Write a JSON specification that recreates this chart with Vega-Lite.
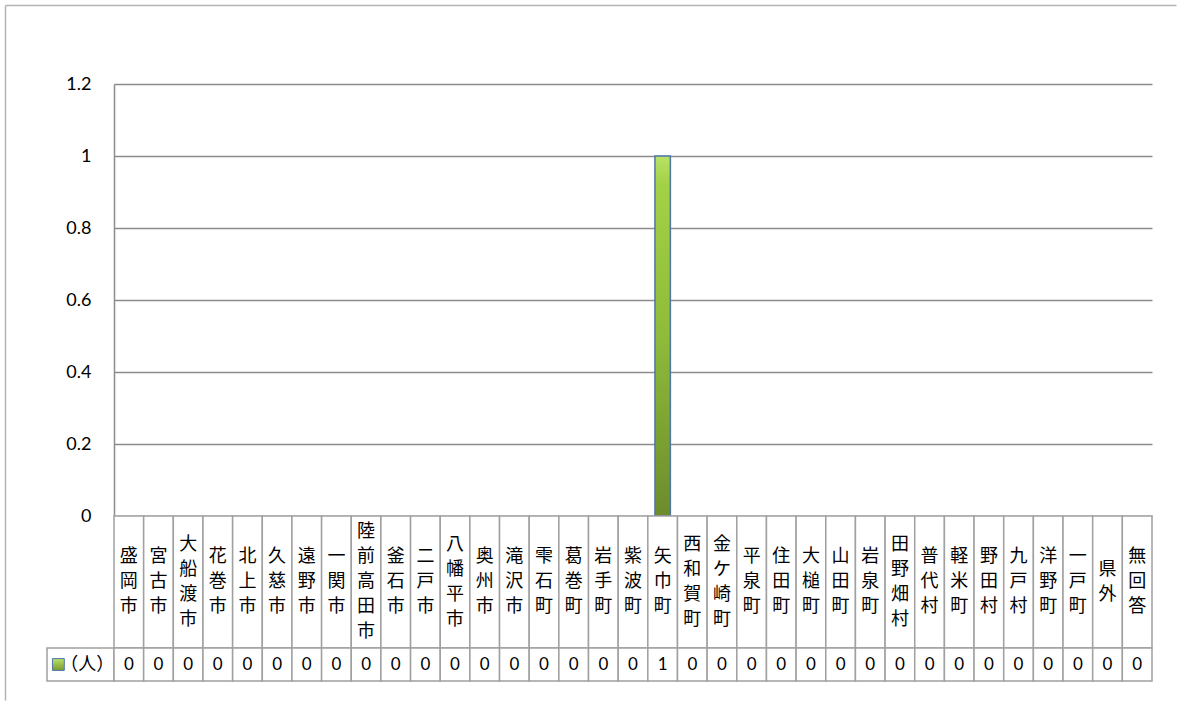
{
  "$schema": "https://vega.github.io/schema/vega-lite/v6.json",
  "background": "white",
  "padding": 5,
  "columns": 2,
  "spacing": 0,
  "bounds": "flush",
  "resolve": {"scale": {"x": "independent", "y": "independent"}},
  "config": {"view": {"stroke": null}},
  "datasets": {
    "t": [
      {"city": "盛岡市", "n": 0}, {"city": "宮古市", "n": 0}, {"city": "大船渡市", "n": 0},
      {"city": "花巻市", "n": 0}, {"city": "北上市", "n": 0}, {"city": "久慈市", "n": 0},
      {"city": "遠野市", "n": 0}, {"city": "一関市", "n": 0}, {"city": "陸前高田市", "n": 0},
      {"city": "釜石市", "n": 0}, {"city": "二戸市", "n": 0}, {"city": "八幡平市", "n": 0},
      {"city": "奥州市", "n": 0}, {"city": "滝沢市", "n": 0}, {"city": "雫石町", "n": 0},
      {"city": "葛巻町", "n": 0}, {"city": "岩手町", "n": 0}, {"city": "紫波町", "n": 0},
      {"city": "矢巾町", "n": 1}, {"city": "西和賀町", "n": 0}, {"city": "金ケ崎町", "n": 0},
      {"city": "平泉町", "n": 0}, {"city": "住田町", "n": 0}, {"city": "大槌町", "n": 0},
      {"city": "山田町", "n": 0}, {"city": "岩泉町", "n": 0}, {"city": "田野畑村", "n": 0},
      {"city": "普代村", "n": 0}, {"city": "軽米町", "n": 0}, {"city": "野田村", "n": 0},
      {"city": "九戸村", "n": 0}, {"city": "洋野町", "n": 0}, {"city": "一戸町", "n": 0},
      {"city": "県外", "n": 0}, {"city": "無回答", "n": 0}
    ],
    "series": [{"s": "（人）"}]
  },
  "concat": [
    {
      "width": 67,
      "height": 432,
      "data": {"values": [{"a": 0.5}]},
      "mark": {"type": "point", "opacity": 0, "size": 1, "strokeWidth": 0},
      "encoding": {
        "x": {"field": "a", "type": "quantitative",
          "scale": {"domain": [0, 1], "range": [-42, 1129], "nice": false, "zero": false},
          "axis": {"orient": "top", "offset": 79, "domain": true, "domainColor": "#b4b4b4", "domainWidth": 1.5,
                   "ticks": false, "labels": false, "grid": false, "title": null}},
        "y": {"field": "a", "type": "quantitative",
          "scale": {"domain": [0, 1], "range": [616, -79], "nice": false, "zero": false},
          "axis": {"orient": "left", "offset": 42, "domain": true, "domainColor": "#b4b4b4", "domainWidth": 1.5,
                   "ticks": false, "labels": false, "grid": false, "title": null}}
      }
    },
    {
      "width": 1038,
      "height": 432,
      "data": {"name": "t"},
      "mark": {
        "type": "bar",
        "width": {"band": 0.52},
        "stroke": "#4f76a8",
        "strokeWidth": 1.5,
        "fill": {"gradient": "linear", "x1": 0, "y1": 0, "x2": 0, "y2": 1,
          "stops": [{"offset": 0, "color": "#b8e266"}, {"offset": 0.08, "color": "#a3d145"},
                    {"offset": 0.5, "color": "#8fbb3a"}, {"offset": 1, "color": "#6c8c2c"}]}
      },
      "encoding": {
        "x": {"field": "city", "type": "nominal", "sort": null,
          "scale": {"paddingInner": 0, "paddingOuter": 0}, "axis": null},
        "y": {"field": "n", "type": "quantitative",
          "scale": {"domain": [0, 1.2], "nice": false},
          "axis": {"values": [0, 0.2, 0.4, 0.6, 0.8, 1, 1.2], "format": "~g", "grid": true,
                   "gridColor": "#8c8c8c", "gridWidth": 1.5, "ticks": false, "domain": true,
                   "domainColor": "#8c8c8c", "domainWidth": 1.5, "labelFont": "Lato",
                   "labelFontSize": 18, "labelColor": "#000000", "labelPadding": 23, "title": null}},
        "opacity": {"condition": {"test": "datum.n > 0", "value": 1}, "value": 0}
      }
    },
    {
      "width": 67,
      "height": 132,
      "data": {"values": [{"a": 0}]},
      "mark": {"type": "point", "opacity": 0, "size": 1, "strokeWidth": 0},
      "encoding": {}
    },
    {
      "width": 1038,
      "height": 132,
      "data": {"name": "t"},
      "layer": [
        {
          "mark": {"type": "bar", "fill": "white", "stroke": "#a0a0a0", "strokeWidth": 1.5},
          "encoding": {
            "x": {"field": "city", "type": "nominal", "sort": null,
              "scale": {"paddingInner": 0, "paddingOuter": 0}, "axis": null}
          }
        },
        {
          "transform": [
            {"calculate": "split(datum.city, '')", "as": "chars"},
            {"calculate": "-(length(datum.city) - 1) / 2", "as": "lead"}
          ],
          "mark": {"type": "text", "font": "Noto Sans CJK JP", "fontSize": 18, "lineHeight": 25,
                   "baseline": "middle", "align": "center", "color": "#000000"},
          "encoding": {
            "x": {"field": "city", "type": "nominal", "sort": null,
              "scale": {"paddingInner": 0, "paddingOuter": 0}, "axis": null},
            "y": {"field": "lead", "type": "quantitative",
              "scale": {"domain": [-2.64, 2.64], "nice": false, "zero": false, "reverse": true}, "axis": null},
            "text": {"field": "chars"}
          }
        }
      ]
    },
    {
      "width": 67,
      "height": 33,
      "data": {"name": "series"},
      "layer": [
        {
          "mark": {"type": "bar", "fill": "white", "stroke": "#a0a0a0", "strokeWidth": 1.5},
          "encoding": {
            "x": {"field": "s", "type": "nominal", "scale": {"paddingInner": 0, "paddingOuter": 0}, "axis": null}
          }
        },
        {
          "mark": {"type": "point", "shape": "square", "size": 140, "filled": true,
                   "stroke": "#4f76a8", "strokeWidth": 1, "opacity": 1,
                   "fill": {"gradient": "linear", "x1": 0, "y1": 0, "x2": 0, "y2": 1,
                     "stops": [{"offset": 0, "color": "#b8e266"}, {"offset": 1, "color": "#7a9a30"}]}},
          "encoding": {
            "x": {"field": "s", "type": "nominal", "bandPosition": 0.17,
              "scale": {"paddingInner": 0, "paddingOuter": 0}, "axis": null}
          }
        },
        {
          "mark": {"type": "text", "font": "Noto Sans CJK JP", "fontSize": 18, "baseline": "middle",
                   "align": "center", "color": "#000000"},
          "encoding": {
            "x": {"field": "s", "type": "nominal", "bandPosition": 0.6,
              "scale": {"paddingInner": 0, "paddingOuter": 0}, "axis": null},
            "text": {"field": "s"}
          }
        }
      ]
    },
    {
      "width": 1038,
      "height": 33,
      "data": {"name": "t"},
      "layer": [
        {
          "mark": {"type": "bar", "fill": "white", "stroke": "#a0a0a0", "strokeWidth": 1.5},
          "encoding": {
            "x": {"field": "city", "type": "nominal", "sort": null,
              "scale": {"paddingInner": 0, "paddingOuter": 0}, "axis": null}
          }
        },
        {
          "mark": {"type": "text", "font": "Lato", "fontSize": 17, "baseline": "middle",
                   "align": "center", "color": "#000000"},
          "encoding": {
            "x": {"field": "city", "type": "nominal", "sort": null,
              "scale": {"paddingInner": 0, "paddingOuter": 0}, "axis": null},
            "text": {"field": "n", "type": "quantitative"}
          }
        }
      ]
    }
  ]
}
